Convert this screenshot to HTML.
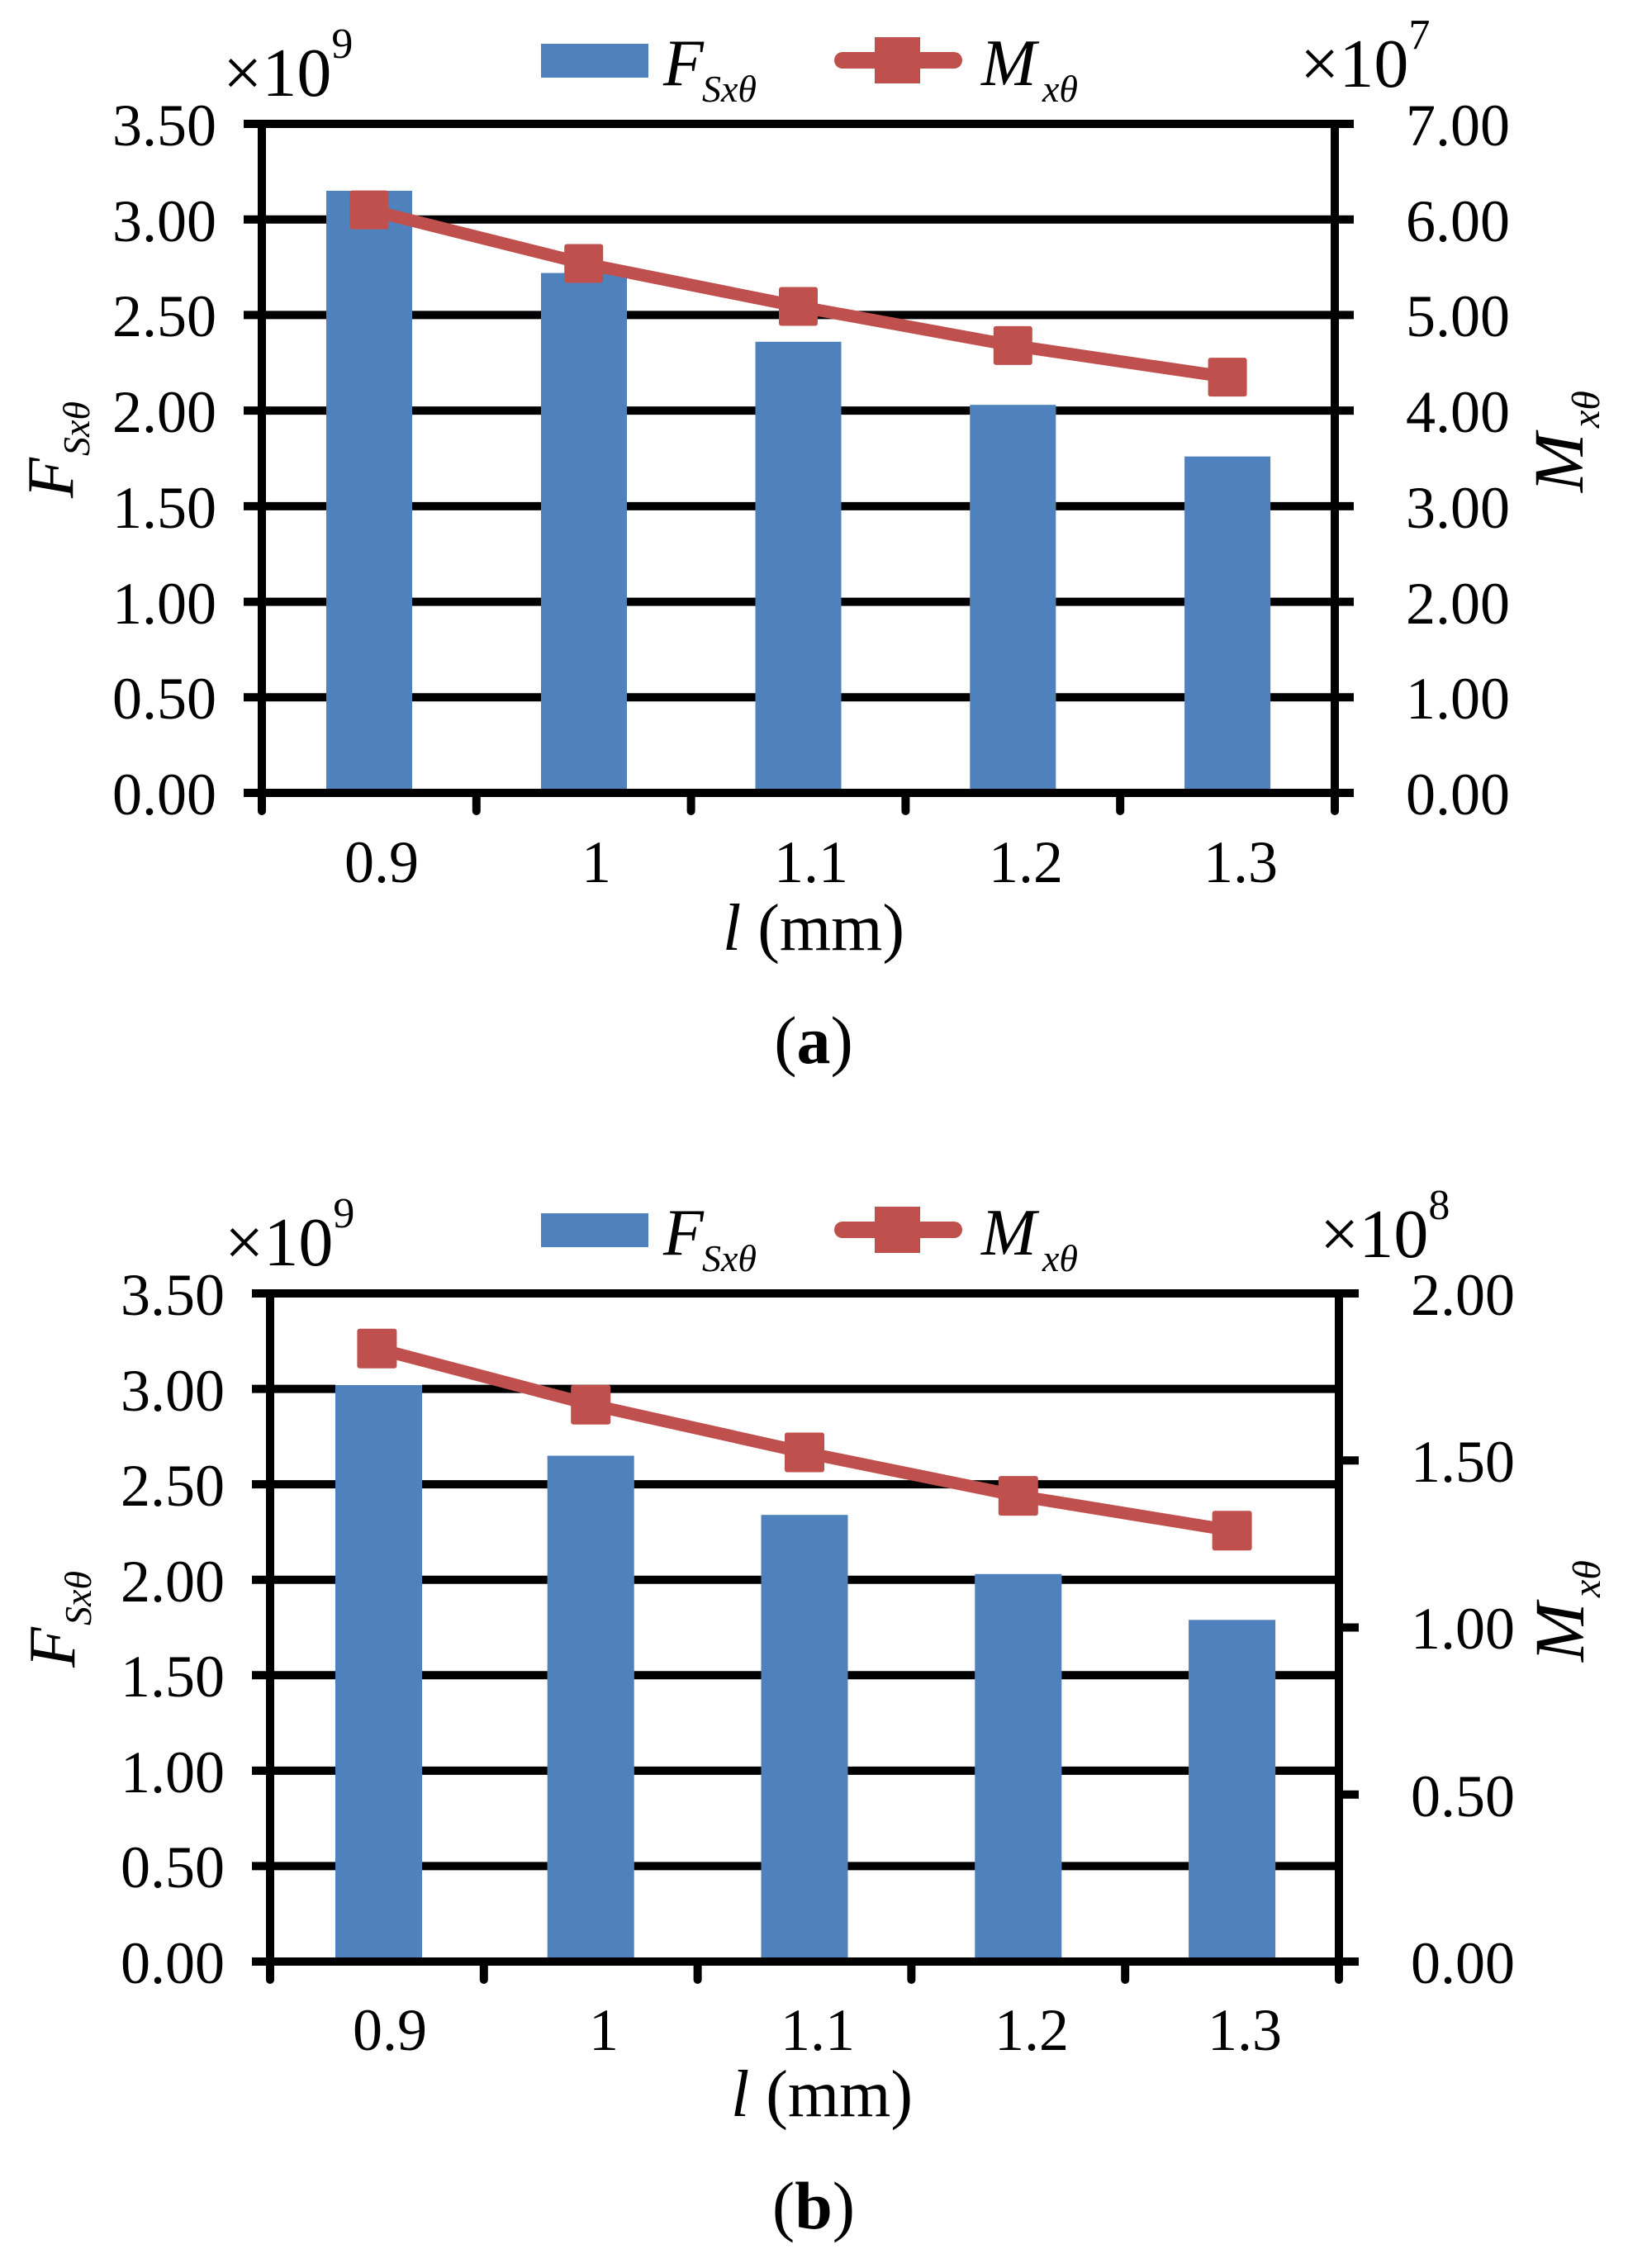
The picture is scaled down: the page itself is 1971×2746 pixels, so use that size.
<!DOCTYPE html>
<html><head><meta charset="utf-8"><style>
html,body{margin:0;padding:0;background:#fff}
svg{display:block}
text{font-family:"Liberation Serif","Times New Roman",serif;fill:#000}
</style></head><body>
<svg width="1971" height="2746" viewBox="0 0 1971 2746" xmlns="http://www.w3.org/2000/svg">
<!-- ===== Chart (a) ===== -->
<g>
<rect x="655" y="53" width="130" height="41" fill="#4F81BD"/>
<text x="803" y="103" font-size="80" font-style="italic">F</text>
<text x="850" y="123" font-size="46" font-style="italic">Sxθ</text>
<line x1="1020" y1="73" x2="1155" y2="73" stroke="#C0504D" stroke-width="20" stroke-linecap="round"/>
<rect x="1059" y="45" width="55" height="56" fill="#C0504D"/>
<text x="1188" y="103" font-size="80" font-style="italic">M</text>
<text x="1262" y="123" font-size="46" font-style="italic">xθ</text>
<text x="270" y="116" font-size="84">×10<tspan font-size="52" dy="-46">9</tspan></text>
<text x="1574" y="105" font-size="84">×10<tspan font-size="52" dy="-46">7</tspan></text>
<g fill="#4F81BD">
<rect x="395" y="231" width="104" height="729"/>
<rect x="655" y="330.5" width="104" height="629.5"/>
<rect x="914.5" y="413.8" width="104" height="546.2"/>
<rect x="1174.3" y="490.2" width="104" height="469.8"/>
<rect x="1434.1" y="552.7" width="104" height="407.3"/>
</g>
<g stroke="#000" stroke-width="10">
<line x1="295" y1="844.3" x2="395" y2="844.3"/><line x1="499" y1="844.3" x2="655" y2="844.3"/><line x1="759" y1="844.3" x2="914.5" y2="844.3"/><line x1="1018.5" y1="844.3" x2="1174.3" y2="844.3"/><line x1="1278.3" y1="844.3" x2="1434.1" y2="844.3"/><line x1="1538.1" y1="844.3" x2="1639" y2="844.3"/>
<line x1="295" y1="728.6" x2="395" y2="728.6"/><line x1="499" y1="728.6" x2="655" y2="728.6"/><line x1="759" y1="728.6" x2="914.5" y2="728.6"/><line x1="1018.5" y1="728.6" x2="1174.3" y2="728.6"/><line x1="1278.3" y1="728.6" x2="1434.1" y2="728.6"/><line x1="1538.1" y1="728.6" x2="1639" y2="728.6"/>
<line x1="295" y1="612.9" x2="395" y2="612.9"/><line x1="499" y1="612.9" x2="655" y2="612.9"/><line x1="759" y1="612.9" x2="914.5" y2="612.9"/><line x1="1018.5" y1="612.9" x2="1174.3" y2="612.9"/><line x1="1278.3" y1="612.9" x2="1434.1" y2="612.9"/><line x1="1538.1" y1="612.9" x2="1639" y2="612.9"/>
<line x1="295" y1="497.1" x2="395" y2="497.1"/><line x1="499" y1="497.1" x2="655" y2="497.1"/><line x1="759" y1="497.1" x2="914.5" y2="497.1"/><line x1="1018.5" y1="497.1" x2="1174.3" y2="497.1"/><line x1="1278.3" y1="497.1" x2="1639" y2="497.1"/>
<line x1="295" y1="381.4" x2="395" y2="381.4"/><line x1="499" y1="381.4" x2="655" y2="381.4"/><line x1="759" y1="381.4" x2="1639" y2="381.4"/>
<line x1="295" y1="265.7" x2="395" y2="265.7"/><line x1="499" y1="265.7" x2="1639" y2="265.7"/>
<line x1="295" y1="150" x2="1639" y2="150"/>
<line x1="295" y1="960" x2="1639" y2="960"/>
<line x1="317" y1="150" x2="317" y2="982" stroke-linecap="round"/>
<line x1="1616" y1="150" x2="1616" y2="982" stroke-linecap="round"/>
<line x1="576.8" y1="960" x2="576.8" y2="982" stroke-linecap="round"/>
<line x1="836.6" y1="960" x2="836.6" y2="982" stroke-linecap="round"/>
<line x1="1096.4" y1="960" x2="1096.4" y2="982" stroke-linecap="round"/>
<line x1="1356.2" y1="960" x2="1356.2" y2="982" stroke-linecap="round"/>
</g>
<polyline points="446.9,254.1 706.7,319 966.5,371 1226.3,418.4 1486.1,456.6" fill="none" stroke="#C0504D" stroke-width="15" stroke-linejoin="round"/>
<g fill="#C0504D">
<rect x="423.4" y="230.6" width="47" height="47" rx="3"/>
<rect x="683.2" y="295.5" width="47" height="47" rx="3"/>
<rect x="943" y="347.5" width="47" height="47" rx="3"/>
<rect x="1202.8" y="394.9" width="47" height="47" rx="3"/>
<rect x="1462.6" y="433.1" width="47" height="47" rx="3"/>
</g>
<g font-size="72" text-anchor="end">
<text x="262" y="986">0.00</text><text x="262" y="870">0.50</text><text x="262" y="755">1.00</text><text x="262" y="639">1.50</text><text x="262" y="523">2.00</text><text x="262" y="407">2.50</text><text x="262" y="292">3.00</text><text x="262" y="176">3.50</text>
</g>
<g font-size="72">
<text x="1702" y="986">0.00</text><text x="1702" y="870">1.00</text><text x="1702" y="755">2.00</text><text x="1702" y="639">3.00</text><text x="1702" y="523">4.00</text><text x="1702" y="407">5.00</text><text x="1702" y="292">6.00</text><text x="1702" y="176">7.00</text>
</g>
<g font-size="72" text-anchor="middle">
<text x="462" y="1068">0.9</text><text x="722" y="1068">1</text><text x="982" y="1068">1.1</text><text x="1242" y="1068">1.2</text><text x="1502" y="1068">1.3</text>
</g>
<text x="985" y="1150" font-size="80" text-anchor="middle"><tspan font-style="italic">l</tspan> (mm)</text>
<text x="985" y="1287" font-size="82" text-anchor="middle">(<tspan font-weight="bold">a</tspan>)</text>
<text transform="translate(88,603) rotate(-90)" font-size="80" font-style="italic">F</text>
<text transform="translate(108,552) rotate(-90)" font-size="46" font-style="italic">Sxθ</text>
<text transform="translate(1916,596) rotate(-90)" font-size="86" font-style="italic">M</text>
<text transform="translate(1936,518) rotate(-90)" font-size="48" font-style="italic">xθ</text>
</g>

<!-- ===== Chart (b) ===== -->
<g>
<rect x="655" y="1469" width="130" height="41" fill="#4F81BD"/>
<text x="803" y="1519" font-size="80" font-style="italic">F</text>
<text x="850" y="1539" font-size="46" font-style="italic">Sxθ</text>
<line x1="1020" y1="1489" x2="1155" y2="1489" stroke="#C0504D" stroke-width="20" stroke-linecap="round"/>
<rect x="1059" y="1461" width="55" height="56" fill="#C0504D"/>
<text x="1188" y="1519" font-size="80" font-style="italic">M</text>
<text x="1262" y="1539" font-size="46" font-style="italic">xθ</text>
<text x="272" y="1532" font-size="84">×10<tspan font-size="52" dy="-46">9</tspan></text>
<text x="1598" y="1522" font-size="84">×10<tspan font-size="52" dy="-46">8</tspan></text>
<g fill="#4F81BD">
<rect x="406" y="1677" width="105" height="698"/>
<rect x="662.7" y="1762.5" width="105" height="612.5"/>
<rect x="921.5" y="1834.2" width="105" height="540.8"/>
<rect x="1180.3" y="1905.8" width="105" height="469.2"/>
<rect x="1439.1" y="1961.3" width="105" height="413.7"/>
</g>
<g stroke="#000" stroke-width="10">
<line x1="305" y1="2259.4" x2="406" y2="2259.4"/><line x1="511" y1="2259.4" x2="662.7" y2="2259.4"/><line x1="767.7" y1="2259.4" x2="921.5" y2="2259.4"/><line x1="1026.5" y1="2259.4" x2="1180.3" y2="2259.4"/><line x1="1285.3" y1="2259.4" x2="1439.1" y2="2259.4"/><line x1="1544.1" y1="2259.4" x2="1621" y2="2259.4"/>
<line x1="305" y1="2143.9" x2="406" y2="2143.9"/><line x1="511" y1="2143.9" x2="662.7" y2="2143.9"/><line x1="767.7" y1="2143.9" x2="921.5" y2="2143.9"/><line x1="1026.5" y1="2143.9" x2="1180.3" y2="2143.9"/><line x1="1285.3" y1="2143.9" x2="1439.1" y2="2143.9"/><line x1="1544.1" y1="2143.9" x2="1621" y2="2143.9"/>
<line x1="305" y1="2028.3" x2="406" y2="2028.3"/><line x1="511" y1="2028.3" x2="662.7" y2="2028.3"/><line x1="767.7" y1="2028.3" x2="921.5" y2="2028.3"/><line x1="1026.5" y1="2028.3" x2="1180.3" y2="2028.3"/><line x1="1285.3" y1="2028.3" x2="1439.1" y2="2028.3"/><line x1="1544.1" y1="2028.3" x2="1621" y2="2028.3"/>
<line x1="305" y1="1912.7" x2="406" y2="1912.7"/><line x1="511" y1="1912.7" x2="662.7" y2="1912.7"/><line x1="767.7" y1="1912.7" x2="921.5" y2="1912.7"/><line x1="1026.5" y1="1912.7" x2="1180.3" y2="1912.7"/><line x1="1285.3" y1="1912.7" x2="1621" y2="1912.7"/>
<line x1="305" y1="1797.1" x2="406" y2="1797.1"/><line x1="511" y1="1797.1" x2="662.7" y2="1797.1"/><line x1="767.7" y1="1797.1" x2="1621" y2="1797.1"/>
<line x1="305" y1="1681.6" x2="406" y2="1681.6"/><line x1="511" y1="1681.6" x2="1621" y2="1681.6"/>
<line x1="305" y1="1566" x2="1645" y2="1566"/>
<line x1="305" y1="2375" x2="1645" y2="2375"/>
<line x1="1621" y1="2172.75" x2="1645" y2="2172.75"/>
<line x1="1621" y1="1970.5" x2="1645" y2="1970.5"/>
<line x1="1621" y1="1768.25" x2="1645" y2="1768.25"/>
<line x1="327" y1="1566" x2="327" y2="2397" stroke-linecap="round"/>
<line x1="1621" y1="1566" x2="1621" y2="2397" stroke-linecap="round"/>
<line x1="585.8" y1="2375" x2="585.8" y2="2397" stroke-linecap="round"/>
<line x1="844.6" y1="2375" x2="844.6" y2="2397" stroke-linecap="round"/>
<line x1="1103.4" y1="2375" x2="1103.4" y2="2397" stroke-linecap="round"/>
<line x1="1362.2" y1="2375" x2="1362.2" y2="2397" stroke-linecap="round"/>
</g>
<polyline points="456.4,1632.7 715.2,1700.7 974,1758.5 1232.8,1811.1 1491.6,1853.2" fill="none" stroke="#C0504D" stroke-width="15" stroke-linejoin="round"/>
<g fill="#C0504D">
<rect x="432.4" y="1608.7" width="48" height="48" rx="3"/>
<rect x="691.2" y="1676.7" width="48" height="48" rx="3"/>
<rect x="950" y="1734.5" width="48" height="48" rx="3"/>
<rect x="1208.8" y="1787.1" width="48" height="48" rx="3"/>
<rect x="1467.6" y="1829.2" width="48" height="48" rx="3"/>
</g>
<g font-size="72" text-anchor="end">
<text x="272" y="2401">0.00</text><text x="272" y="2285">0.50</text><text x="272" y="2170">1.00</text><text x="272" y="2054">1.50</text><text x="272" y="1939">2.00</text><text x="272" y="1823">2.50</text><text x="272" y="1708">3.00</text><text x="272" y="1592">3.50</text>
</g>
<g font-size="72">
<text x="1708" y="2401">0.00</text><text x="1708" y="2199">0.50</text><text x="1708" y="1996">1.00</text><text x="1708" y="1794">1.50</text><text x="1708" y="1592">2.00</text>
</g>
<g font-size="72" text-anchor="middle">
<text x="472" y="2482">0.9</text><text x="731" y="2482">1</text><text x="990" y="2482">1.1</text><text x="1249" y="2482">1.2</text><text x="1507" y="2482">1.3</text>
</g>
<text x="995" y="2562" font-size="80" text-anchor="middle"><tspan font-style="italic">l</tspan> (mm)</text>
<text x="985" y="2698" font-size="82" text-anchor="middle">(<tspan font-weight="bold">b</tspan>)</text>
<text transform="translate(90,2019) rotate(-90)" font-size="80" font-style="italic">F</text>
<text transform="translate(110,1968) rotate(-90)" font-size="46" font-style="italic">Sxθ</text>
<text transform="translate(1917,2012) rotate(-90)" font-size="86" font-style="italic">M</text>
<text transform="translate(1937,1934) rotate(-90)" font-size="48" font-style="italic">xθ</text>
</g>
</svg>
</body></html>
